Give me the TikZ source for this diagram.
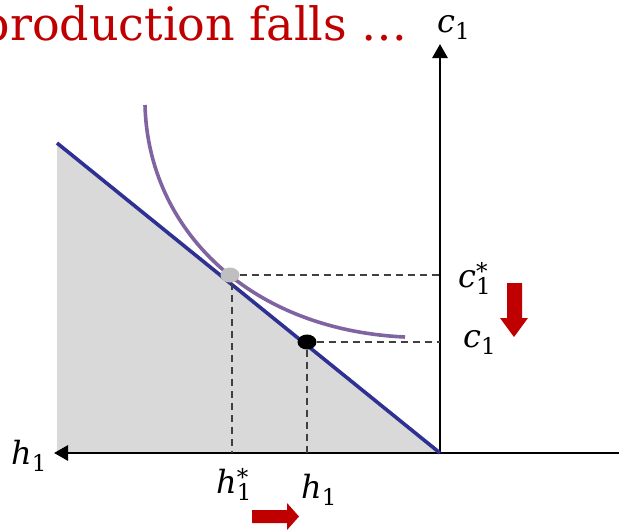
\documentclass[tikz,border=0pt]{standalone}
\usepackage{fontspec}
\newfontfamily\titlefont{DejaVu Serif}
\newfontfamily\labfont{DejaVu Serif}
\usetikzlibrary{arrows.meta,shapes.geometric}
\definecolor{titlered}{HTML}{C00000}
\definecolor{budget}{HTML}{2E3192}
\definecolor{indiff}{HTML}{8064A2}
\definecolor{shadegray}{HTML}{D9D9D9}
\definecolor{dashgray}{HTML}{404040}
\newcommand{\subsz}{\fontsize{23}{25}\selectfont\upshape}
\newcommand{\varsub}[1]{{\itshape #1}\raisebox{-7pt}{\subsz 1}}
\newcommand{\varsubstar}[1]{{\itshape #1}\rlap{\raisebox{8pt}{\subsz *}}\raisebox{-7pt}{\subsz 1}}
\tikzset{
  axis/.style={line width=2.8pt, -{Triangle[length=14pt,width=15pt]}},
  guide/.style={dashgray, line width=1.8pt, dash pattern=on 7pt off 5pt},
  dotnode/.style={ellipse, inner sep=0pt, minimum width=19pt, minimum height=15pt},
  lab/.style={inner sep=0pt, anchor=base west, font=\labfont\fontsize{32}{36}\selectfont},
  redarrow/.style={fill=titlered, draw=none}
}
\begin{document}
\begin{tikzpicture}[x=1pt,y=-1pt]
\useasboundingbox (0,0) rectangle (619,531);
% shaded region
\fill[shadegray] (57,143) -- (57,453) -- (440,453) -- cycle;
% coordinates
\coordinate (O) at (440,453);
\coordinate (Ytop) at (440,44);
\coordinate (Xright) at (619,453);
\coordinate (Xleft) at (54,453);
\coordinate (B1) at (57,143);
% axes
\draw[axis] (O) -- (Ytop);
\draw[axis] (Xright) -- (Xleft);
% budget line
\draw[budget, line width=3.6pt] (B1) -- (O);
% indifference curve
\draw[indiff, line width=3.6pt] (145,105) .. controls (148,230) and (250,330) .. (405,337);
% dots
\node[dotnode, fill=black!25] (G) at (230,275) {};
\node[dotnode, fill=black] (K) at (307,342) {};
% guides
\coordinate (Gx) at (232,453);
\coordinate (Gy) at (440,275);
\coordinate (Kx) at (307,453);
\coordinate (Ky) at (440,342);
\draw[guide] (G) -- (Gy);
\draw[guide] (G.south -| Gx) -- (Gx);
\draw[guide] (K) -- (Ky);
\draw[guide] (K.south) -- (Kx);
% labels
\node[anchor=base east, inner sep=0pt, text=titlered, font=\titlefont\fontsize{46}{50}\selectfont] (title) at (408,40) {production falls \ldots};
\node[lab] (ctop) at (437,32) {\varsub{c}};
\node[lab] (cstar) at (458,287) {\varsubstar{c}};
\node[lab] (clow) at (463,347) {\varsub{c}};
\node[lab] (hleft) at (11,464) {\varsub{h}};
\node[lab] (hstar) at (216,493) {\varsubstar{h}};
\node[lab] (hlow) at (301,498) {\varsub{h}};
% red arrows
\fill[redarrow] (507,283) -- (522,283) -- (522,318) -- (528,318) -- (514,337) -- (500,318) -- (507,318) -- cycle;
\fill[redarrow] (252,510) -- (287,510) -- (287,503) -- (299,516.5) -- (287,530) -- (287,523) -- (252,523) -- cycle;
\end{tikzpicture}
\end{document}
